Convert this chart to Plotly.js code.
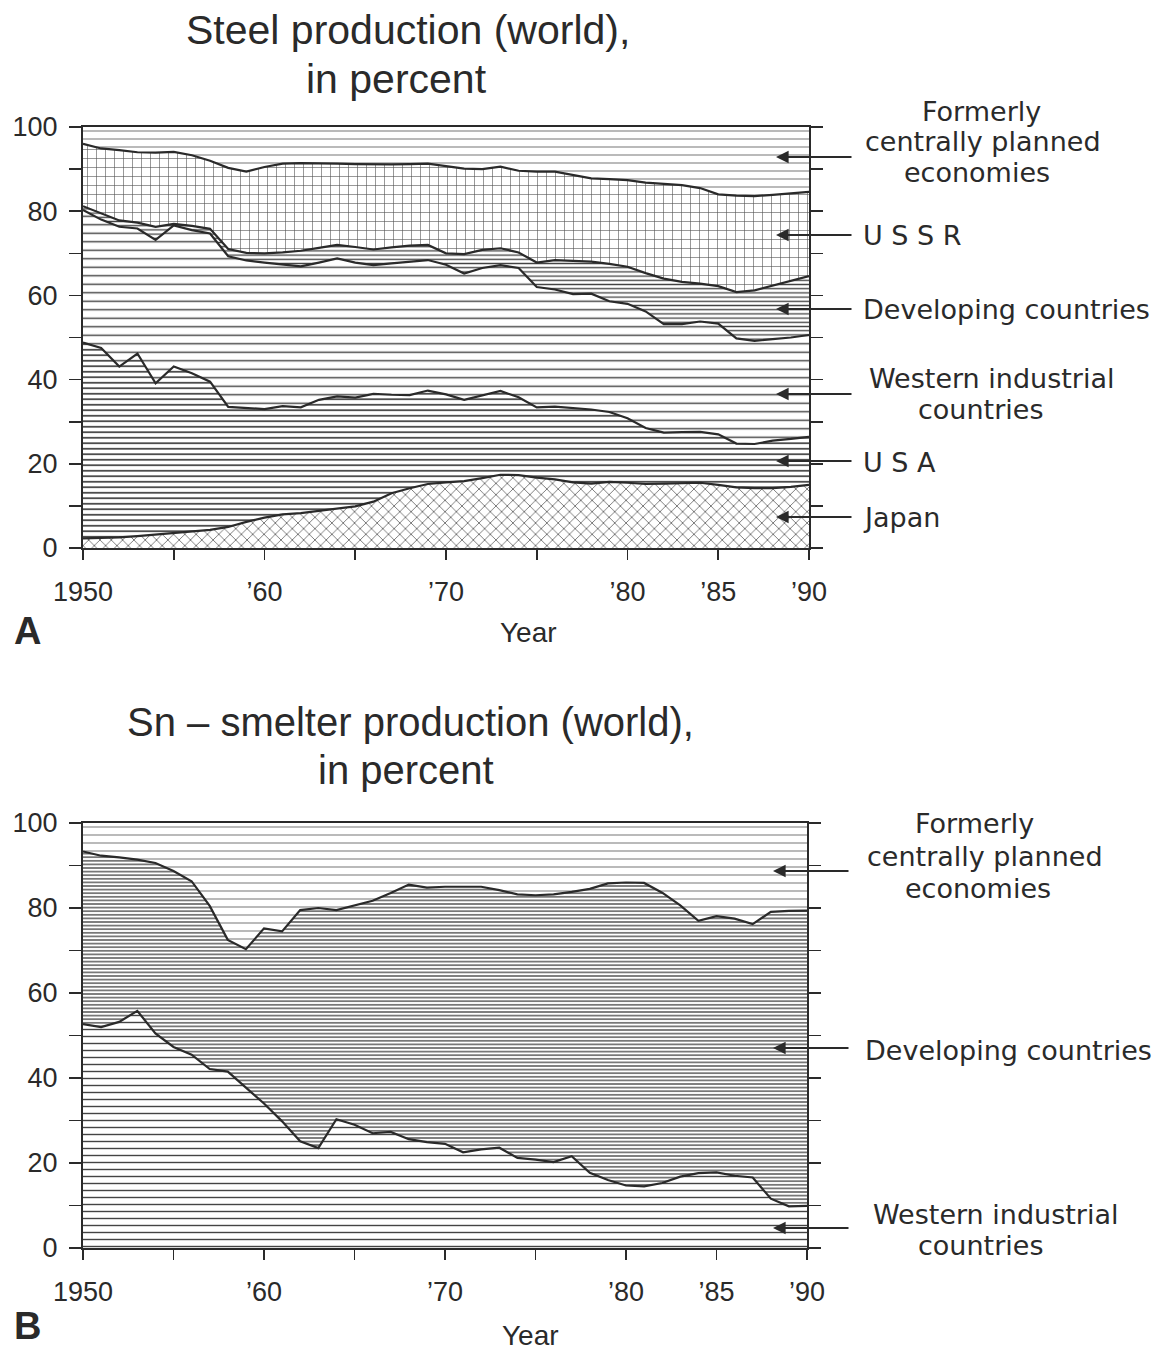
<!DOCTYPE html>
<html>
<head>
<meta charset="utf-8">
<script src="https://cdn.plot.ly/plotly-3.0.1.min.js"></script>
<style>html,body{margin:0;padding:0;background:#fff;}</style>
</head>
<body>
<div id="chart" style="width:1162px;height:1350px;"></div>
<script>
// ---------- DATA ----------
const years = [1950,1951,1952,1953,1954,1955,1956,1957,1958,1959,
               1960,1961,1962,1963,1964,1965,1966,1967,1968,1969,
               1970,1971,1972,1973,1974,1975,1976,1977,1978,1979,
               1980,1981,1982,1983,1984,1985,1986,1987,1988,1989,1990];

// Panel A – steel production, cumulative shares (%) (upper edge of each band)
const steelJapanTop = [2.3,2.4,2.5,2.8,3.2,3.6,4.0,4.3,5.0,6.2,
                       7.2,8.0,8.3,8.8,9.3,9.9,11.0,13.0,14.2,15.2,
                       15.6,15.9,16.6,17.4,17.3,16.7,16.3,15.6,15.3,15.7,
                       15.5,15.2,15.3,15.4,15.5,15.0,14.4,14.2,14.2,14.5,15.0];
const steelUsaTop = [48.8,47.5,43.1,46.2,39.1,43.1,41.5,39.5,33.5,33.2,
                     33.0,33.7,33.4,35.2,36.0,35.7,36.6,36.4,36.3,37.4,
                     36.5,35.2,36.3,37.3,35.8,33.4,33.6,33.2,32.9,32.3,
                     30.8,28.5,27.4,27.5,27.6,27.0,24.8,24.7,25.5,25.9,26.4];
const steelWesternTop = [80.3,78.0,76.3,75.9,73.2,76.6,75.5,74.7,69.3,68.3,
                         67.8,67.3,66.9,67.8,68.8,67.8,67.2,67.6,68.0,68.4,
                         67.3,65.2,66.5,67.2,66.5,62.0,61.4,60.3,60.4,58.6,
                         58.0,56.2,53.2,53.2,53.8,53.3,49.8,49.2,49.6,50.0,50.6];
const steelDevelopingTop = [81.2,79.5,77.8,77.3,76.3,77.0,76.5,75.8,71.0,70.1,
                            70.0,70.2,70.6,71.3,72.0,71.5,70.9,71.4,71.8,72.0,
                            70.0,69.8,70.8,71.2,70.2,67.8,68.4,68.2,68.0,67.5,
                            66.8,65.3,64.0,63.2,62.8,62.2,60.8,61.2,62.3,63.5,64.6];
const steelUssrTop = [96.0,94.9,94.5,94.0,93.9,94.1,93.3,92.0,90.3,89.4,
                      90.5,91.3,91.4,91.4,91.3,91.2,91.1,91.1,91.2,91.3,
                      90.7,90.1,90.0,90.6,89.6,89.4,89.4,88.6,87.8,87.6,
                      87.4,86.8,86.5,86.2,85.5,84.0,83.7,83.6,83.9,84.3,84.6];

// Panel B – Sn smelter production, cumulative shares (%)
const tinWesternTop = [52.7,52.0,53.2,55.8,50.5,47.3,45.5,42.1,41.5,37.8,
                       34.0,29.8,25.1,23.5,30.3,29.0,27.0,27.3,25.6,24.9,
                       24.5,22.5,23.2,23.6,21.2,20.8,20.2,21.6,17.7,16.0,
                       14.7,14.5,15.3,16.8,17.6,17.8,17.0,16.6,11.6,9.8,9.9];
const tinDevelopingTop = [93.3,92.3,91.9,91.4,90.6,88.7,86.3,80.5,72.5,70.3,
                          75.2,74.5,79.5,80.0,79.5,80.6,81.7,83.5,85.5,84.8,
                          85.0,85.0,85.0,84.2,83.2,83.0,83.2,83.8,84.5,85.8,
                          86.0,85.9,83.6,80.6,77.0,78.1,77.5,76.2,79.1,79.3,79.4];

const totalShare = years.map(() => 100);

const xTickVals = [1950,1955,1960,1965,1970,1975,1980,1985,1990];
const xTickText = ['1950','','\u201960','','\u201970','','\u201980','\u201985','\u201990'];
const yTickVals = [0,10,20,30,40,50,60,70,80,90,100];
const yTickText = ['0','','20','','40','','60','','80','','100'];

const steelLabels = ['Japan','USA','Western industrial countries','Developing countries','USSR','Formerly centrally planned economies'];
const tinLabels = ['Western industrial countries','Developing countries','Formerly centrally planned economies'];

// ---------- STYLE ----------
const INK = '#2a2a2a';
const W = 1162, H = 1350;
const px = v => v / W;
const py = v => 1 - v / H;

function band(y, xa, ya, first, pat, name, lineW) {
  return {
    x: years, y: y, xaxis: xa, yaxis: ya, name: name,
    type: 'scatter', mode: 'lines',
    line: {color: INK, width: lineW === undefined ? 2.2 : lineW, shape: 'linear'},
    fill: first ? 'tozeroy' : 'tonexty',
    fillcolor: 'white',
    fillpattern: Object.assign({bgcolor: 'white', fillmode: 'replace'}, pat),
    hoverinfo: 'x+y+name'
  };
}

const pats = {
  dash:   {shape: '-', size: 8, solidity: 0.15, fgcolor: '#8c8c8c'},
  brick:  {shape: '+', size: 9, solidity: 0.13, fgcolor: '#555'},
  dense:  {shape: '-', size: 4.2, solidity: 0.32, fgcolor: '#444'},
  wide:   {shape: '-', size: 8.5, solidity: 0.17, fgcolor: '#444'},
  wavy:   {shape: '-', size: 5.5, solidity: 0.3, fgcolor: '#3a3a3a'},
  zig:    {shape: 'x', size: 8, solidity: 0.18, fgcolor: '#555'},
  denseB: {shape: '-', size: 3.6, solidity: 0.4, fgcolor: '#555'},
  wideB:  {shape: '-', size: 7, solidity: 0.2, fgcolor: '#444'}
};

const data = [
  band(steelJapanTop, 'x', 'y', true, pats.zig, steelLabels[0]),
  band(steelUsaTop, 'x', 'y', false, pats.wavy, steelLabels[1]),
  band(steelWesternTop, 'x', 'y', false, pats.wide, steelLabels[2]),
  band(steelDevelopingTop, 'x', 'y', false, pats.dense, steelLabels[3]),
  band(steelUssrTop, 'x', 'y', false, pats.brick, steelLabels[4]),
  band(totalShare, 'x', 'y', false, pats.dash, steelLabels[5], 0),
  band(tinWesternTop, 'x2', 'y2', true, pats.wideB, tinLabels[0]),
  band(tinDevelopingTop, 'x2', 'y2', false, pats.denseB, tinLabels[1]),
  band(totalShare, 'x2', 'y2', false, pats.dash, tinLabels[2], 0)
];

const tickFont = {family: 'Liberation Sans, Arial, sans-serif', size: 27, color: INK};
function xAxis(dom, anchor) {
  return {
    domain: dom, anchor: anchor, range: [1950, 1990],
    tickmode: 'array', tickvals: xTickVals, ticktext: xTickText,
    ticks: 'outside', ticklen: 10, tickwidth: 1.6, tickcolor: INK,
    showline: true, linecolor: INK, linewidth: 2, mirror: true,
    showgrid: false, zeroline: false, tickfont: tickFont, ticklabelstandoff: 9,
    fixedrange: true
  };
}
function yAxis(dom, anchor) {
  return {
    domain: dom, anchor: anchor, range: [0, 100],
    tickmode: 'array', tickvals: yTickVals, ticktext: yTickText,
    ticks: 'outside', ticklen: 12, tickwidth: 1.6, tickcolor: INK,
    showline: true, linecolor: INK, linewidth: 2, mirror: 'ticks',
    showgrid: false, zeroline: false, tickfont: tickFont, ticklabelstandoff: 6,
    fixedrange: true
  };
}

const labFont = {family: 'DejaVu Sans, sans-serif', size: 27, color: INK};
const titleFont = {family: 'Liberation Sans, Arial, sans-serif', size: 41, color: INK};
const titleFontB = {family: 'Liberation Sans, Arial, sans-serif', size: 40, color: INK};
const axFont = {family: 'Liberation Sans, Arial, sans-serif', size: 28, color: INK};
const panelFont = {family: 'Liberation Sans, Arial, sans-serif', size: 38, color: INK, weight: 'bold'};

function txt(t, x, y, font, anchor) {
  return {text: t, x: px(x), y: py(y), xref: 'paper', yref: 'paper', borderpad: 0,
          xanchor: anchor || 'center', yanchor: 'middle', showarrow: false, font: font};
}
function arrow(yPix, tip, tail) {
  return {text: '', x: px(tip), y: py(yPix), xref: 'paper', yref: 'paper',
          ax: tail - tip, ay: 0, showarrow: true, arrowhead: 2, arrowsize: 1.4,
          arrowwidth: 1.8, arrowcolor: INK};
}

const annotations = [
  txt('Steel production (world),', 408, 30, titleFont),
  txt('in percent', 396, 79, titleFont),
  txt('Sn \u2013 smelter production (world),', 410, 722, titleFontB),
  txt('in percent', 406, 770, titleFontB),
  txt('Year', 528, 632, axFont),
  txt('Year', 530, 1335, axFont),
  txt('A', 27, 631, panelFont),
  txt('B', 27, 1326, panelFont),
  // panel A labels
  txt('Formerly', 981, 112, labFont),
  txt('centrally planned', 983, 142, labFont),
  txt('economies', 977, 172, labFont),
  txt('U S S R', 862, 236, labFont, 'left'),
  txt('Developing countries', 862, 309, labFont, 'left'),
  txt('Western industrial', 991, 378, labFont),
  txt('countries', 980, 409, labFont),
  txt('U S A', 862, 462, labFont, 'left'),
  txt('Japan', 862, 518, labFont, 'left'),
  arrow(157, 776, 853), arrow(235, 776, 853), arrow(309, 776, 853),
  arrow(394, 776, 853), arrow(461, 776, 853), arrow(517, 776, 853),
  // panel B labels
  txt('Formerly', 975, 823, labFont),
  txt('centrally planned', 985, 856, labFont),
  txt('economies', 978, 888, labFont),
  txt('Developing countries', 864, 1050, labFont, 'left'),
  txt('Western industrial', 995, 1214, labFont),
  txt('countries', 980, 1245, labFont),
  arrow(871, 773, 850), arrow(1048, 773, 850), arrow(1228, 773, 850)
];

const layout = {
  width: W, height: H,
  margin: {l: 0, r: 0, t: 0, b: 0, pad: 0},
  paper_bgcolor: 'white', plot_bgcolor: 'white',
  showlegend: false,
  xaxis: xAxis([px(83), px(809)], 'y'),
  yaxis: yAxis([py(548), py(127)], 'x'),
  xaxis2: xAxis([px(83), px(807)], 'y2'),
  yaxis2: yAxis([py(1248), py(823)], 'x2'),
  annotations: annotations
};

Plotly.newPlot('chart', data, layout, {displayModeBar: false, staticPlot: true});
</script>
</body>
</html>
